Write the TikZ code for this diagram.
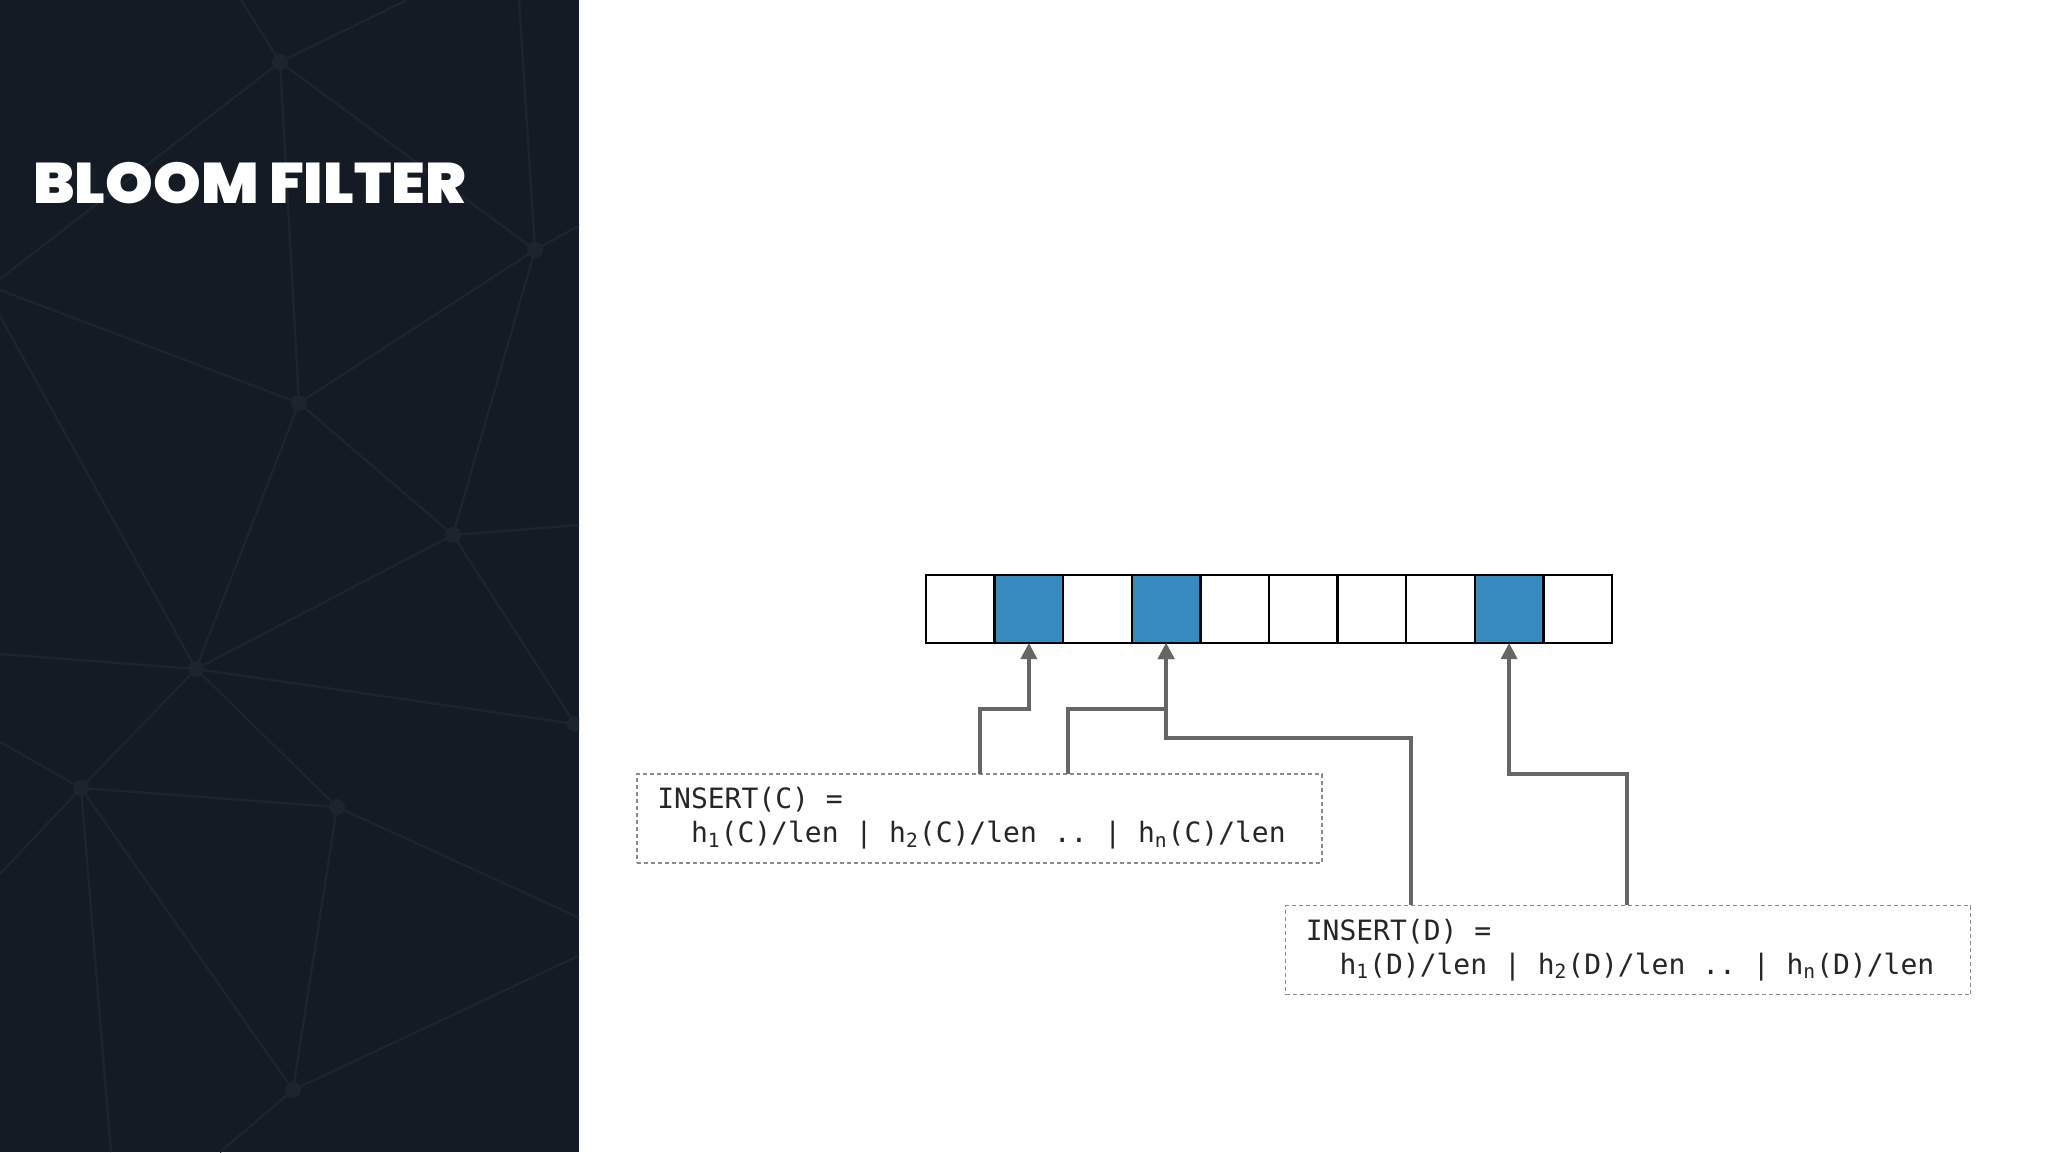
\documentclass[tikz,border=0pt]{standalone}
\usepackage{fontspec}
\setmonofont{DejaVu Sans Mono}
\newfontfamily\titlefont{Poppins Black}
\usetikzlibrary{arrows.meta}
\definecolor{panel}{HTML}{141B24}
\definecolor{netline}{HTML}{1C252F}
\definecolor{bitblue}{RGB}{54,139,193}
\definecolor{conn}{HTML}{666666}
\definecolor{dashgray}{HTML}{8A8A8A}
\tikzset{
  cellbox/.style={draw=black, line width=1.25pt, minimum width=34.3pt, minimum height=34pt, inner sep=0pt, outer sep=0pt},
  insbox/.style={draw=dashgray, line width=0.8pt, dash pattern=on 2pt off 1.5pt, minimum width=342.5pt, minimum height=44.5pt, inner sep=0pt, align=left, font=\ttfamily\fontsize{14}{17}\selectfont, text=black!85},
  connector/.style={draw=conn, line width=1.7pt, -{Triangle[width=8pt,length=8pt]}},
  netedge/.style={draw=netline, line width=1.1pt},
  netdot/.style={fill=netline, circle, inner sep=0pt, minimum size=8pt}
}
\begin{document}
\begin{tikzpicture}[x=0.5pt,y=-0.5pt]
\useasboundingbox (0,0) rectangle (2048,1152);
\fill[white] (0,0) rectangle (2048,1152);
\fill[panel] (0,0) rectangle (579,1152);
% background network
\begin{scope}
\clip (0,0) rectangle (579,1152);
\coordinate (n1) at (280,62);
\coordinate (n2) at (535,250);
\coordinate (n3) at (299,403);
\coordinate (n4) at (453,535);
\coordinate (n5) at (196,669);
\coordinate (n6) at (81,788);
\coordinate (n7) at (337,807);
\coordinate (n8) at (293,1090);
\coordinate (n9) at (575,724);
\path[netedge] (n1) -- (241,0) (n1) -- (407,0) (n1) -- (0,279) (n1) -- (n2) (n1) -- (n3)
  (n2) -- (519,0) (n2) -- (580,225) (n2) -- (n3) (n2) -- (n4)
  (n3) -- (0,290) (n3) -- (n4) (n3) -- (n5)
  (n4) -- (580,525) (n4) -- (n9) (n4) -- (n5)
  (n5) -- (0,316) (n5) -- (0,654) (n5) -- (n6) (n5) -- (n7) (n5) -- (n9)
  (n6) -- (0,742) (n6) -- (0,874) (n6) -- (n7) (n6) -- (n8) (n6) -- (111,1152)
  (n7) -- (n8) (n7) -- (580,918)
  (n8) -- (580,955) (n8) -- (220,1152);
\foreach \n in {n1,n2,n3,n4,n5,n6,n7,n8,n9} \node[netdot] at (\n) {};
\end{scope}
% title
\node[anchor=base west, text=white, font=\titlefont\fontsize{28.6}{30}\selectfont, inner sep=0pt] (title) at (33,203) {\scalebox{1.06}[1]{BLOOM FILTER}};
% bit array
\foreach \i/\f in {1/white,2/bitblue,3/white,4/bitblue,5/white,6/white,7/white,8/white,9/bitblue,10/white}
  \node[cellbox, fill=\f] (c\i) at ({926+68.6*(\i-0.5)},609) {};
% insert boxes
\node[insbox] (boxC) at (979.5,818.5) {INSERT(C) =\\\ \ h\textsubscript{1}(C)/len | h\textsubscript{2}(C)/len .. | h\textsubscript{n}(C)/len\hspace*{8pt}};
\node[insbox] (boxD) at (1628,950) {INSERT(D) =\\\ \ h\textsubscript{1}(D)/len | h\textsubscript{2}(D)/len .. | h\textsubscript{n}(D)/len\hspace*{8pt}};
% connector start points
\coordinate (sC1) at (980,774);
\coordinate (sC2) at (1068,774);
\coordinate (sD1) at (1411,905);
\coordinate (sD2) at (1627,905);
\draw[connector] (sC1) -- (980,709) -| (c2.south);
\draw[connector] (sC2) -- (1068,709) -| (c4.south);
\draw[connector] (sD1) -- (1411,738) -| (c4.south);
\draw[connector] (sD2) -- (1627,774) -| (c9.south);
\end{tikzpicture}
\end{document}
